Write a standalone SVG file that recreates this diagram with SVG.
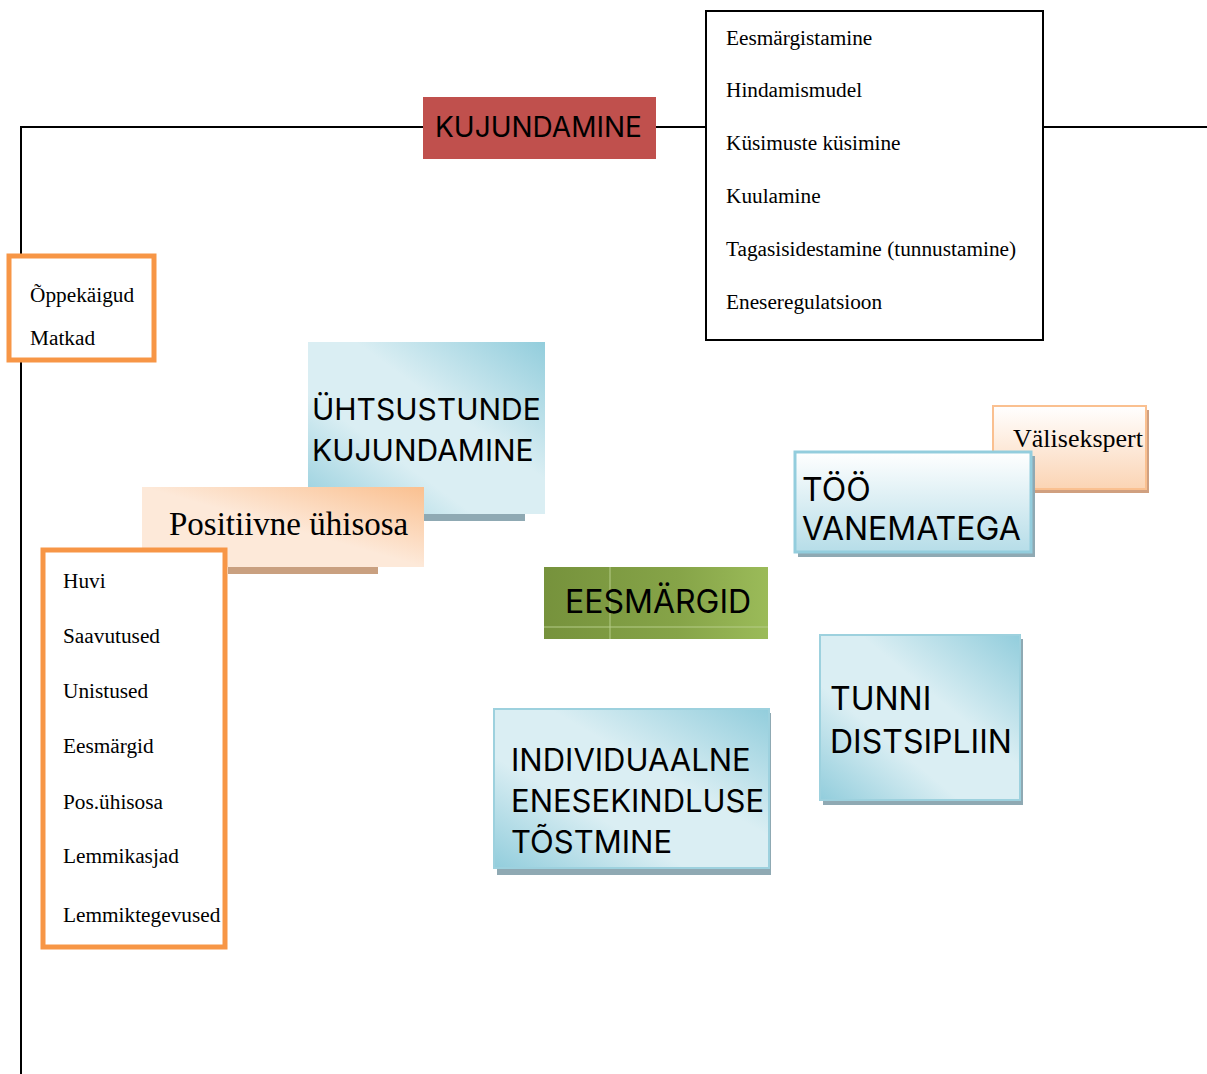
<svg xmlns="http://www.w3.org/2000/svg" width="1207" height="1074" viewBox="0 0 1207 1074">
<defs>
<linearGradient id="blue" x1="0" y1="1" x2="1" y2="0">
<stop offset="0" stop-color="#92CDDC"/>
<stop offset="0.35" stop-color="#DAEEF3"/>
<stop offset="0.6" stop-color="#DAEEF3"/>
<stop offset="1" stop-color="#92CDDC"/>
</linearGradient>
<linearGradient id="peach" x1="0" y1="1" x2="1" y2="0">
<stop offset="0" stop-color="#FDE9D9"/>
<stop offset="0.5" stop-color="#FDE9D9"/>
<stop offset="1" stop-color="#FAC090"/>
</linearGradient>
<linearGradient id="blueV" x1="0" y1="0" x2="0" y2="1">
<stop offset="0" stop-color="#FFFFFF"/>
<stop offset="1" stop-color="#B6DDE8"/>
</linearGradient>
<linearGradient id="peachV" x1="0" y1="0" x2="0" y2="1">
<stop offset="0" stop-color="#FFFFFF"/>
<stop offset="1" stop-color="#FBD4B4"/>
</linearGradient>
<linearGradient id="green" x1="0" y1="0" x2="1" y2="0">
<stop offset="0" stop-color="#76923C"/>
<stop offset="0.6" stop-color="#86A448"/>
<stop offset="1" stop-color="#9BBB59"/>
</linearGradient>
</defs>
<style>
.sans{font-family:Inter,"Noto Sans","DejaVu Sans",sans-serif;fill:#000}
.serif{font-family:"Liberation Serif","Times New Roman",serif;font-size:21.3px;fill:#000}
.big{font-family:"Liberation Serif","Times New Roman",serif;fill:#000}
.orange{fill:#fff;stroke:#F79646;stroke-width:5}
.shadow{fill:#8FA9B3}
.bluebox{fill:url(#blue);stroke:#9DD1DE;stroke-width:2}
</style>
<g id="connectors" fill="none" stroke="#000" stroke-width="2">
<line x1="21" y1="127" x2="1207" y2="127"/>
<line x1="21" y1="126" x2="21" y2="1074"/>
</g>
<g id="kujundamine">
<rect x="423" y="97" width="233" height="62" fill="#C0504D"/>
<text class="sans" x="435" y="137" font-size="28">KUJUNDAMINE</text>
</g>
<g id="list-top">
<rect x="706" y="11" width="337" height="329" fill="#fff" stroke="#000" stroke-width="2"/>
<text class="serif" x="726" y="45">Eesmärgistamine</text>
<text class="serif" x="726" y="97">Hindamismudel</text>
<text class="serif" x="726" y="150">Küsimuste küsimine</text>
<text class="serif" x="726" y="203">Kuulamine</text>
<text class="serif" x="726" y="256">Tagasisidestamine (tunnustamine)</text>
<text class="serif" x="726" y="309">Eneseregulatsioon</text>
</g>
<g id="oppekaigud">
<rect class="orange" x="9" y="256" width="145" height="104"/>
<text class="serif" x="30" y="302">Õppekäigud</text>
<text class="serif" x="30" y="345">Matkad</text>
</g>
<g id="uhtsustunde">
<rect class="shadow" x="420" y="514" width="105" height="7"/>
<rect x="308" y="342" width="237" height="172" fill="url(#blue)"/>
<text class="sans" x="312" y="420" font-size="30">ÜHTSUSTUNDE</text>
<text class="sans" x="312" y="461" font-size="30">KUJUNDAMINE</text>
</g>
<g id="positiivne">
<rect x="228" y="567" width="150" height="7" fill="#C9A080"/>
<rect x="142" y="487" width="282" height="80" fill="url(#peach)"/>
<text class="big" x="169" y="535" font-size="33">Positiivne ühisosa</text>
</g>
<g id="list-left">
<rect class="orange" x="43" y="550" width="182" height="397"/>
<text class="serif" x="63" y="588">Huvi</text>
<text class="serif" x="63" y="643">Saavutused</text>
<text class="serif" x="63" y="698">Unistused</text>
<text class="serif" x="63" y="753">Eesmärgid</text>
<text class="serif" x="63" y="809">Pos.ühisosa</text>
<text class="serif" x="63" y="863">Lemmikasjad</text>
<text class="serif" x="63" y="922">Lemmiktegevused</text>
</g>
<g id="valisekspert">
<rect x="996" y="410" width="153" height="83" fill="#D0A080"/>
<rect x="993" y="406" width="153" height="83" fill="url(#peachV)" stroke="#FAC090" stroke-width="2"/>
<text class="big" x="1013" y="447" font-size="26">Välisekspert</text>
</g>
<g id="too-vanematega">
<rect class="shadow" x="798" y="456" width="237" height="101"/>
<rect x="795" y="452" width="236" height="100" fill="url(#blueV)" stroke="#93CDDD" stroke-width="3"/>
<text class="sans" x="802" y="501" font-size="32">TÖÖ</text>
<text class="sans" x="802" y="540" font-size="32">VANEMATEGA</text>
</g>
<g id="eesmargid">
<rect x="544" y="567" width="224" height="72" fill="url(#green)"/>
<line x1="544" y1="627" x2="768" y2="627" stroke="#B5CC88" stroke-width="1"/>
<line x1="610" y1="567" x2="610" y2="639" stroke="#B5CC88" stroke-width="1"/>
<text class="sans" x="565" y="613" font-size="32">EESMÄRGID</text>
</g>
<g id="tunni-distsipliin">
<rect class="shadow" x="823" y="639" width="200" height="166"/>
<rect class="bluebox" x="820" y="635" width="200" height="165"/>
<text class="sans" x="830" y="710" font-size="32">TUNNI</text>
<text class="sans" x="830" y="753" font-size="32">DISTSIPLIIN</text>
</g>
<g id="individuaalne">
<rect class="shadow" x="497" y="713" width="274" height="162"/>
<rect class="bluebox" x="494" y="709" width="275" height="159"/>
<text class="sans" x="511" y="771" font-size="31">INDIVIDUAALNE</text>
<text class="sans" x="511" y="812" font-size="31">ENESEKINDLUSE</text>
<text class="sans" x="511" y="853" font-size="31">TÕSTMINE</text>
</g>
</svg>
